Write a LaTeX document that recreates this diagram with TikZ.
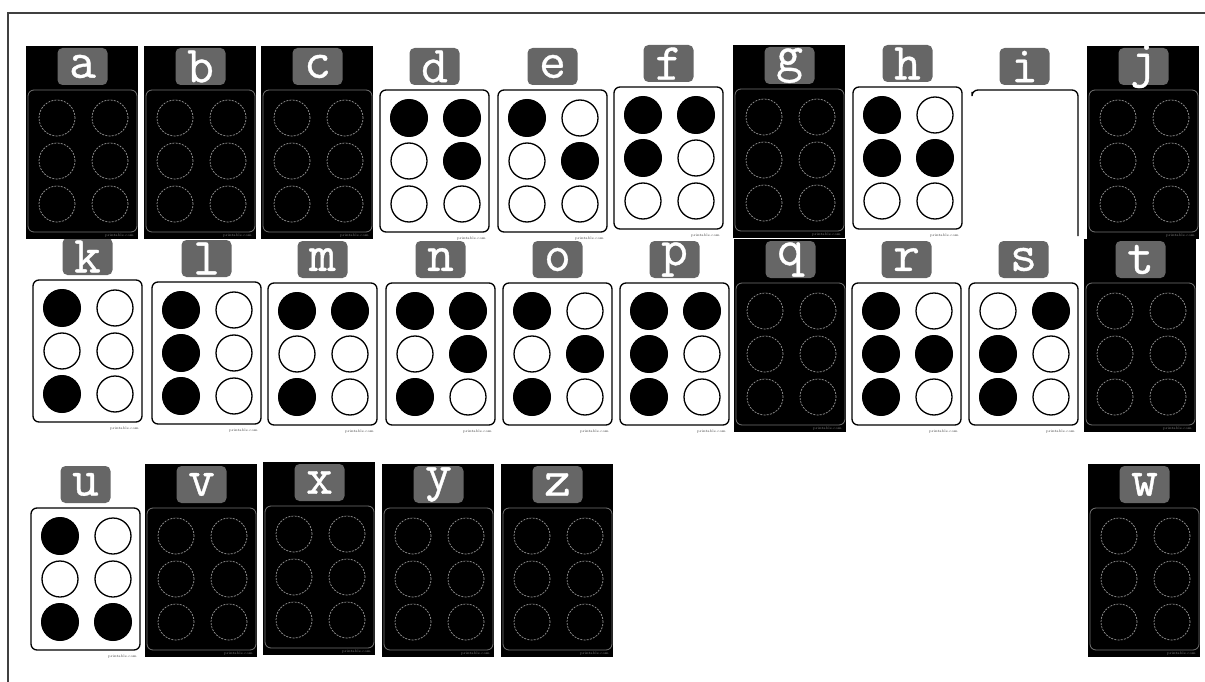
\documentclass[tikz,border=0pt]{standalone}
\usepackage{fontspec}
\newfontfamily\tagfont[FakeBold=0.7]{Latin Modern Mono}
\begin{document}
\begin{tikzpicture}[x=1pt,y=-1pt,
  lettertag/.style={fill=black!60,rounded corners=5pt,inner sep=0pt,
    minimum width=50pt,minimum height=37pt},
  letter/.style={text=white,inner sep=0pt,font=\fontsize{52}{52}\selectfont\tagfont},
  whitecard/.style={draw=black,line width=1.3pt,rounded corners=6pt},
  darkcard/.style={draw=black!55,line width=0.8pt,rounded corners=6pt},
  opendot/.style={draw=black,line width=1.3pt,fill=white},
  fulldot/.style={fill=black},
  faintdot/.style={draw=black!40,line width=0.7pt,dash pattern=on 2pt off 1.2pt},
  srctext/.style={inner sep=0pt,anchor=east,font=\fontsize{3.5}{4}\selectfont}]
\useasboundingbox (0,0) rectangle (1205,682);
\draw[line width=1.2pt,black!75] (8,682) -- (8,13) -- (1205,13);
% cards with raised dots
\foreach \cx/\cy/\l/\pat in {380/90/d/{1,4,5},498/90/e/{1,5},614/87/f/{1,2,4},853/87/h/{1,2,5},
  33/280/k/{1,3},152/282/l/{1,2,3},268/283/m/{1,3,4},386/283/n/{1,3,4,5},503/283/o/{1,3,5},
  620/283/p/{1,2,3,4},852/283/r/{1,2,3,5},969/283/s/{2,3,4},31/508/u/{1,3,6}}
{
\begin{scope}[shift={(\cx,\cy)}]
\coordinate (d1) at (29,28); \coordinate (d2) at (29,71); \coordinate (d3) at (29,114);
\coordinate (d4) at (82,28); \coordinate (d5) at (82,71); \coordinate (d6) at (82,114);
\draw[whitecard] (0,0) rectangle (109,142);
\node[lettertag] (lab-\l) at (54.5,-23.5) {};
\node[letter] (let-\l) at (lab-\l) {\l};
\foreach \d in {1,...,6}
  \draw[opendot] (d\d) circle[radius=18pt];
\foreach \d in \pat
  \fill[fulldot] (d\d) circle[radius=19pt];
\node[srctext,text=black!80] (src-\l) at (106,149) {printable.com};
\end{scope}
}
% dark cards
\foreach \cx/\cy/\l in {28/90/a,146/90/b,263/90/c,735/89/g,1089/90/j,736/283/q,1086/283/t,
  147/508/v,265/506/x,384/508/y,503/508/z,1090/508/w}
{
\begin{scope}[shift={(\cx,\cy)}]
\coordinate (d1) at (29,28); \coordinate (d2) at (29,71); \coordinate (d3) at (29,114);
\coordinate (d4) at (82,28); \coordinate (d5) at (82,71); \coordinate (d6) at (82,114);
\fill[black] (-2,-44) rectangle (110,149);
\draw[darkcard] (0,0) rectangle (109,142);
\node[lettertag] (lab-\l) at (54.5,-23.5) {};
\node[letter] (let-\l) at (lab-\l) {\l};
\foreach \d in {1,...,6}
  \draw[faintdot] (d\d) circle[radius=18pt];
\node[srctext,text=black!45] (src-\l) at (106,146) {printable.com};
\end{scope}
}
% blank card
\begin{scope}[shift={(970,90)}]
\node[lettertag] (lab-i) at (54.5,-23.5) {};
\node[letter] (let-i) at (lab-i) {i};
\draw[line width=1.3pt,rounded corners=6pt] (2,2) -- (2,0) -- (108,0) -- (108,146);
\end{scope}
\end{tikzpicture}
\end{document}
